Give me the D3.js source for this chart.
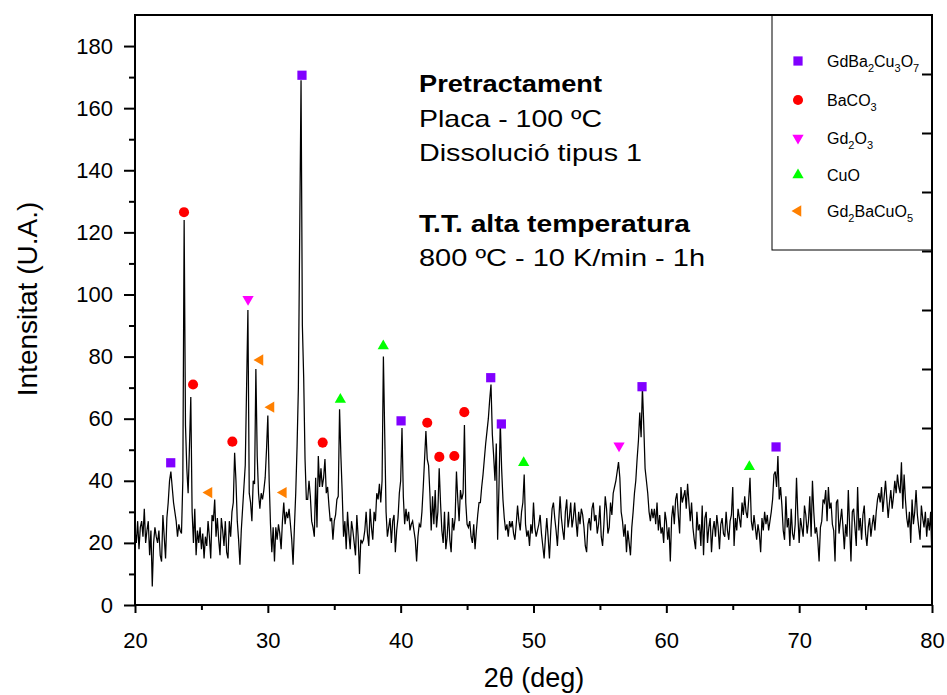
<!DOCTYPE html>
<html>
<head>
<meta charset="utf-8">
<script src="https://cdn.jsdelivr.net/npm/d3@7"></script>
<style>
  body { margin: 0; background: #fff; }
  text { font-family: "Liberation Sans", Arial, sans-serif; }
</style>
</head>
<body>
<script>
// measured pattern: 2theta from 20 to 80 deg, one reading every 0.1 deg
var twoThetaStart = 20;
var twoThetaStep = 0.1;
var intensity = [
  24, 20, 27, 18, 25, 27, 22, 31, 20, 24,
  27, 16, 24, 6, 20, 25, 22, 20, 24, 16,
  14, 29, 22, 15, 28, 33, 40, 43, 38, 33,
  30, 27, 22, 26, 24, 23, 40, 124, 58, 44,
  36, 51, 67, 30, 20, 31, 16, 24, 20, 25,
  18, 23, 15, 22, 19, 27, 22, 15, 29, 27,
  34, 22, 28, 21, 16, 28, 24, 19, 27, 17,
  15, 27, 22, 30, 33, 49, 40, 27, 21, 13,
  24, 31, 38, 45, 70, 95, 36, 33, 27, 40,
  39, 76, 48, 36, 31, 36, 34, 37, 41, 50,
  61, 40, 26, 17, 25, 14, 25, 21, 26, 23,
  18, 27, 33, 26, 30, 28, 31, 26, 21, 13,
  25, 36, 51, 70, 120, 169, 90, 73, 47, 34,
  34, 40, 35, 27, 25, 22, 41, 25, 48, 38,
  44, 38, 41, 47, 36, 38, 32, 27, 28, 21,
  27, 29, 34, 35, 63, 48, 36, 22, 27, 18,
  30, 23, 18, 27, 24, 20, 16, 29, 22, 10,
  21, 20, 21, 24, 30, 23, 19, 31, 25, 21,
  30, 27, 36, 34, 39, 33, 40, 80, 55, 30,
  22, 25, 28, 20, 27, 29, 17, 24, 28, 36,
  40, 57, 35, 26, 31, 27, 30, 24, 26, 27,
  24, 21, 14, 22, 26, 25, 30, 38, 47, 56,
  47, 45, 36, 24, 35, 26, 37, 25, 30, 44,
  33, 24, 20, 30, 18, 22, 30, 21, 17, 28,
  24, 28, 43, 34, 27, 37, 34, 36, 58, 33,
  26, 25, 27, 22, 20, 26, 18, 24, 29, 33,
  33, 38, 42, 47, 52, 56, 60, 66, 71, 55,
  48, 40, 52, 21, 38, 59, 44, 34, 28, 24,
  26, 22, 27, 25, 27, 23, 21, 26, 32, 27,
  24, 30, 33, 42, 26, 22, 24, 19, 26, 23,
  33, 25, 22, 24, 26, 29, 23, 19, 15, 22,
  28, 22, 15, 24, 31, 33, 28, 24, 19, 27,
  35, 28, 24, 21, 30, 34, 25, 28, 33, 25,
  28, 33, 27, 22, 30, 26, 31, 29, 25, 19,
  17, 26, 28, 24, 31, 33, 27, 29, 23, 26,
  32, 22, 19, 26, 35, 31, 23, 25, 33, 29,
  36, 38, 40, 43, 46, 41, 30, 27, 22, 26,
  17, 24, 20, 16, 25, 30, 36, 40, 47, 53,
  62, 54, 70, 58, 44, 40, 36, 30, 27, 31,
  28, 31, 26, 33, 24, 29, 23, 25, 20, 30,
  27, 21, 25, 14, 28, 32, 26, 34, 36, 29,
  23, 38, 33, 35, 37, 31, 39, 33, 27, 33,
  25, 21, 18, 30, 24, 26, 19, 32, 16, 28,
  30, 20, 25, 28, 17, 24, 27, 22, 29, 25,
  18, 26, 28, 23, 22, 30, 24, 21, 27, 29,
  38, 19, 28, 24, 31, 28, 25, 33, 29, 35,
  30, 28, 34, 41, 27, 24, 29, 25, 21, 26,
  23, 17, 28, 24, 30, 26, 29, 24, 27, 30,
  34, 42, 43, 38, 48, 34, 38, 32, 24, 21,
  35, 25, 28, 19, 31, 23, 21, 26, 41, 29,
  20, 28, 25, 22, 32, 29, 23, 27, 35, 22,
  40, 30, 23, 25, 21, 14, 25, 27, 34, 33,
  37, 27, 38, 31, 33, 26, 24, 14, 33, 34,
  23, 27, 31, 25, 18, 26, 22, 37, 25, 14,
  30, 31, 25, 19, 38, 24, 28, 21, 29, 32,
  23, 19, 25, 28, 22, 26, 29, 24, 30, 34,
  36, 33, 38, 30, 35, 40, 34, 28, 33, 37,
  31, 35, 40, 36, 42, 38, 36, 46, 31, 42,
  34, 28, 25, 30, 20, 34, 26, 30, 37, 29,
  25, 21, 32, 28, 25, 30, 22, 28, 24, 30,
  14
];

// phase markers (2theta, height)
var gdbcoTheta = [22.69, 32.57, 40.03, 46.78, 47.58, 58.17, 68.26];
var gdbcoValue = [45.8, 170.6, 59.3, 73.2, 58.3, 70.3, 50.9];
var bacoTheta = [23.69, 24.37, 27.33, 34.13, 42.0, 42.91, 44.04, 44.79];
var bacoValue = [126.5, 71.0, 52.6, 52.3, 58.7, 47.7, 48.0, 62.1];
var gdoTheta = [28.51, 56.44];
var gdoValue = [98.5, 51.3];
var cuoTheta = [35.46, 38.69, 49.26, 66.25];
var cuoValue = [66.2, 83.4, 45.8, 44.5];
var g211Theta = [25.57, 29.41, 30.24, 31.17];
var g211Value = [36.2, 78.9, 63.7, 36.2];

var phaseLabels = ["GdBa_2Cu_3O_7", "BaCO_3", "Gd_2O_3", "CuO", "Gd_2BaCuO_5"];
var xTicks = [20, 30, 40, 50, 60, 70, 80];
var yTicks = [0, 20, 40, 60, 80, 100, 120, 140, 160, 180];

var annotationText = ["Pretractament", "Placa - 100 ºC", "Dissolució tipus 1", "T.T. alta temperatura", "800 ºC - 10 K/min - 1h"];
var annotationBold = [true, false, false, true, false];

var width = 947;
var height = 695;
var plotLeft = 135, plotRight = 932, plotTop = 15, plotBottom = 605;

var svg = d3.select("body").append("svg")
    .attr("width", width)
    .attr("height", height);

var xScale = d3.scaleLinear().domain([20, 80]).range([plotLeft, plotRight]);
var yScale = d3.scaleLinear().domain([0, 190]).range([plotBottom, plotTop]);

var data = intensity.map(function (v, i) {
    return { t: twoThetaStart + i * twoThetaStep, v: v };
});

// pattern line
var line = d3.line()
    .x(d => xScale(d.t))
    .y(d => yScale(d.v));

svg.append("path")
    .datum(data)
    .attr("fill", "none")
    .attr("stroke", "#000")
    .attr("stroke-width", 1.25)
    .attr("stroke-linejoin", "miter")
    .attr("d", line);

// axes
var yAxis = d3.axisLeft(yScale).tickValues(yTicks).tickSize(11).tickPadding(11).tickFormat(d3.format("d"));
var yMinor = d3.axisLeft(yScale).tickValues(d3.range(10, 190, 20)).tickSize(6).tickFormat("");
var xAxis = d3.axisBottom(xScale).tickValues(xTicks).tickSize(8).tickPadding(19).tickFormat(d3.format("d"));
var xMinor = d3.axisBottom(xScale).tickValues(d3.range(25, 80, 10)).tickSize(5).tickFormat("");
var rScale = d3.scaleLinear().domain([0, 10]).range([plotBottom, plotTop]);
var rAxis = d3.axisLeft(rScale).tickValues(d3.range(1, 10)).tickSize(10).tickFormat("");

function place(axis, tx, ty) {
    var a = svg.append("g")
        .attr("transform", "translate(" + tx + "," + ty + ")")
        .call(axis);
    a.select(".domain").remove();
    a.selectAll("line").attr("stroke-width", 2);
    a.selectAll("text")
        .style("font-size", "22px")
        .style("font-family", "'Liberation Sans', Arial, sans-serif")
        .attr("fill", "#000");
    return a;
}
place(yAxis, plotLeft, 0);
place(yMinor, plotLeft, 0);
place(xAxis, 0, plotBottom);
place(xMinor, 0, plotBottom);
place(rAxis, plotRight, 0);

svg.append("rect")
    .attr("x", plotLeft)
    .attr("y", plotTop)
    .attr("width", plotRight - plotLeft)
    .attr("height", plotBottom - plotTop)
    .attr("fill", "none")
    .attr("stroke", "#000")
    .attr("stroke-width", 2);

// axis titles
svg.append("text")
    .attr("transform", "translate(37,299) rotate(-90)")
    .attr("text-anchor", "middle")
    .style("font-size", "28px")
    .text("Intensitat (U.A.)");

svg.append("text")
    .attr("x", 534)
    .attr("y", 687)
    .attr("text-anchor", "middle")
    .style("font-size", "27px")
    .text("2θ (deg)");

// markers
var phases = [
    { theta: gdbcoTheta, value: gdbcoValue, type: d3.symbolSquare, size: 85, rot: 0, color: "#8000ff" },
    { theta: bacoTheta, value: bacoValue, type: d3.symbolCircle, size: 80, rot: 0, color: "#ff0000" },
    { theta: gdoTheta, value: gdoValue, type: d3.symbolTriangle, size: 55, rot: 180, color: "#ff00ff" },
    { theta: cuoTheta, value: cuoValue, type: d3.symbolTriangle, size: 55, rot: 0, color: "#00ff00" },
    { theta: g211Theta, value: g211Value, type: d3.symbolTriangle, size: 55, rot: -90, color: "#ff8000" }
];

phases.forEach(function (p) {
    var pts = p.theta.map((t, i) => ({ t: t, v: p.value[i] }));
    svg.append("g").selectAll("path")
        .data(pts)
        .enter().append("path")
        .attr("d", d3.symbol().type(p.type).size(p.size))
        .attr("transform", d => "translate(" + xScale(d.t) + "," + yScale(d.v) + ") rotate(" + p.rot + ")")
        .attr("fill", p.color);
});

// legend
svg.append("rect")
    .attr("x", 772)
    .attr("y", plotTop)
    .attr("width", plotRight - 772)
    .attr("height", 250 - plotTop)
    .attr("fill", "none")
    .attr("stroke", "#000")
    .attr("stroke-width", 1);

var legendY = [61, 100, 138, 175, 211];
phases.forEach(function (p, i) {
    svg.append("path")
        .attr("d", d3.symbol().type(p.type).size(p.size))
        .attr("transform", "translate(798," + legendY[i] + ") rotate(" + p.rot + ")")
        .attr("fill", p.color);
    var t = svg.append("text")
        .attr("x", 827)
        .attr("y", legendY[i] + 6)
        .style("font-size", "16px");
    var parts = phaseLabels[i].split(/_(\d)/);
    var lowered = false;
    parts.forEach(function (s, k) {
        if (s === "") return;
        var sub = k % 2 === 1;
        var ts = t.append("tspan").text(s);
        if (sub) {
            ts.style("font-size", "11px").attr("dy", lowered ? 0 : 5);
            lowered = true;
        } else {
            if (lowered) ts.attr("dy", -5);
            lowered = false;
        }
    });
});

// annotation block
var annotationY = [92, 127, 161, 232, 266];
var annotationWidth = [183, 183, 223, 271, 286];
annotationText.forEach(function (s, i) {
    svg.append("text")
        .attr("x", 419)
        .attr("y", annotationY[i])
        .attr("textLength", annotationWidth[i])
        .attr("lengthAdjust", "spacingAndGlyphs")
        .style("font-size", "24px")
        .style("font-weight", annotationBold[i] ? "bold" : "normal")
        .text(s);
});
</script>
</body>
</html>
